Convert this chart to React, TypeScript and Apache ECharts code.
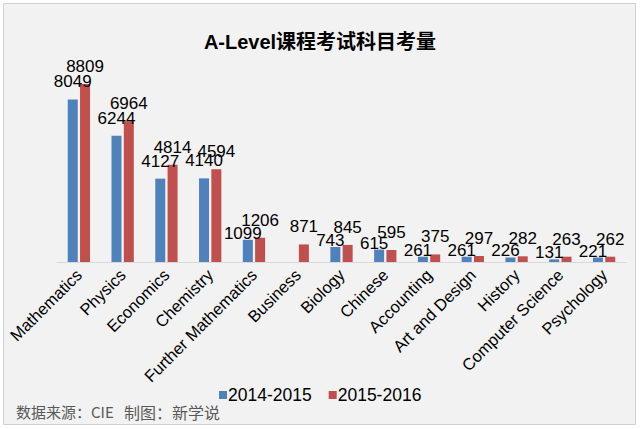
import React, { useEffect, useRef } from "react";
import * as echarts from "echarts";

const categories = [
  "Mathematics", "Physics", "Economics", "Chemistry", "Further Mathematics",
  "Business", "Biology", "Chinese", "Accounting", "Art and Design",
  "History", "Computer Science", "Psychology",
];
const series2014 = [8049, 6244, 4127, 4140, 1099, null, 743, 615, 261, 261, 226, 131, 221];
const series2015 = [8809, 6964, 4814, 4594, 1206, 871, 845, 595, 375, 297, 282, 263, 262];
const seriesNames = ["2014-2015", "2015-2016"];
const sourceText = "数据来源：CIE";
const makerText = "制图：新学说";

export default function App() {
  const ref = useRef<HTMLDivElement>(null);
  useEffect(() => {
    document.body.style.margin = "0";
    const chart = echarts.init(ref.current!, null, { renderer: "svg" });
    const font = "Arial, 'Liberation Sans', sans-serif";
    const baseLabel = { show: true, position: "top", fontSize: 17, color: "#000", fontFamily: font };
    // blue labels sit close to (small) bars and slightly left, as in the reference
    const blueData = series2014.map((v) =>
      v == null
        ? null
        : {
            value: v,
            label: v > 3000 ? { distance: 9, offset: [0, 0] } : { distance: -2, offset: [-5, 0] },
          }
    );
    const cjk = "'Noto Sans CJK SC', sans-serif";
    chart.setOption({
      animation: false,
      backgroundColor: "#ffffff",
      graphic: [
        {
          type: "rect", z: -10, silent: true,
          shape: { x: 3.5, y: 3.5, width: 632, height: 421 },
          style: { fill: "#f2f2f2", stroke: "#d0d0d0", lineWidth: 1 },
        },
        {
          type: "text", left: 16, top: 404,
          style: { text: sourceText, fontSize: 15, fill: "#595959", fontFamily: cjk },
        },
        {
          type: "text", left: 124, top: 404,
          style: { text: makerText, fontSize: 16, fill: "#595959", fontFamily: cjk },
        },
      ],
      title: {
        text: "A-Level课程考试科目考量",
        left: "center", top: 27,
        textStyle: { fontSize: 20, fontWeight: "bold", color: "#000", fontFamily: "Arial, 'Noto Sans CJK SC', sans-serif" },
      },
      legend: {
        data: seriesNames,
        top: 381, left: 214,
        itemWidth: 8, itemHeight: 8, itemGap: 17,
        icon: "rect",
        textStyle: { fontSize: 17.5, color: "#000", fontFamily: font, padding: [0, 0, 0, -4] },
      },
      grid: { left: 57, right: 14, top: 60, bottom: 167 },
      xAxis: {
        type: "category",
        data: categories,
        axisLine: { lineStyle: { color: "#d9d9d9" } },
        axisTick: { show: false },
        axisLabel: { interval: 0, rotate: 45, fontSize: 16.5, color: "#000", fontFamily: font, margin: 10 },
      },
      yAxis: {
        type: "value", min: 0, max: 10000,
        show: false,
        splitLine: { show: false },
      },
      series: [
        {
          name: seriesNames[0], type: "bar", data: blueData,
          barWidth: 10, barGap: "23%",
          itemStyle: { color: "#4f81bd" },
          label: baseLabel,
        },
        {
          name: seriesNames[1], type: "bar", data: series2015,
          barWidth: 10,
          itemStyle: { color: "#c0504d" },
          label: { ...baseLabel, distance: 9 },
        },
      ],
    });
    return () => chart.dispose();
  }, []);
  return <div ref={ref} style={{ width: 640, height: 429 }} />;
}
